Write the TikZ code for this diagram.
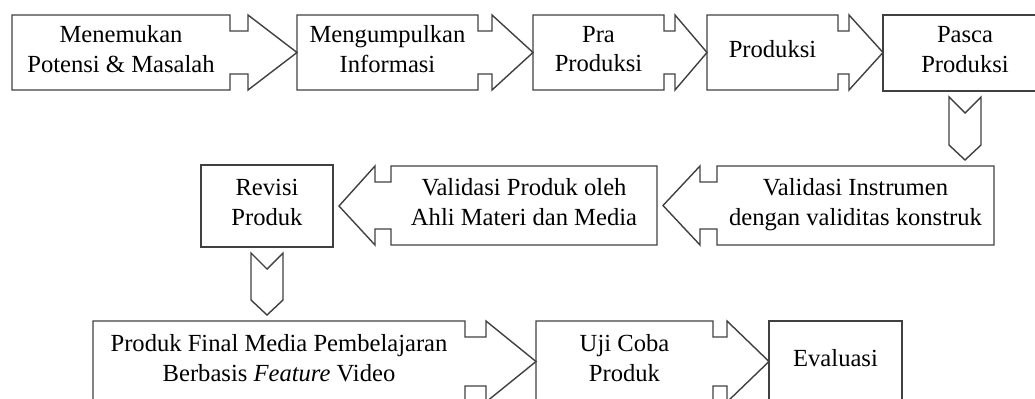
\documentclass[tikz,border=0pt]{standalone}
\usepackage{fontspec}
\setmainfont{Liberation Serif}
\usepackage{xcolor}
\usepackage{tikz}
\usetikzlibrary{calc}
\definecolor{edgegray}{RGB}{64,64,64}

\begin{document}
\begin{tikzpicture}[
		x=1cm,
		y=1cm,
		font=\fontsize{14}{17}\selectfont,
		stepbox/.style={
			inner sep=0pt,
			outer sep=0pt,
			align=center,
			text depth=4pt
		},
		plainbox/.style={
			stepbox,
			draw=edgegray,
			line width=0.8pt
		},
		outline/.style={draw=edgegray, line width=0.8pt, line join=miter}
	]
	
	% Canvas
	\useasboundingbox (0,0) rectangle (20.7,7.96);
	\clip (0,0) rectangle (20.7,7.96);
	
	% Top row
	\node[stepbox, minimum width=4.36cm, minimum height=1.5cm] (menemukan) at (2.42,6.91) {Menemukan\\Potensi \& Masalah};
	\node[stepbox, minimum width=3.62cm, minimum height=1.5cm] (mengumpulkan) at (7.75,6.91) {Mengumpulkan\\Informasi};
	\node[stepbox, minimum width=2.62cm, minimum height=1.5cm] (praproduksi) at (11.97,6.91) {Pra\\Produksi};
	\node[stepbox, minimum width=2.62cm, minimum height=1.5cm] (produksi) at (15.45,6.91) {Produksi};
	\node[plainbox, minimum width=3.28cm, minimum height=1.52cm] (pasca) at (19.30,6.90) {Pasca\\Produksi};
	
	% Middle row
	\node[plainbox, minimum width=2.64cm, minimum height=1.64cm] (revisi) at (5.34,3.84) {Revisi\\Produk};
	\node[stepbox, minimum width=5.32cm, minimum height=1.58cm] (valproduk) at (10.48,3.85) {Validasi Produk oleh\\Ahli Materi dan Media};
	\node[stepbox, minimum width=5.54cm, minimum height=1.58cm] (valinstrumen) at (17.11,3.85) {Validasi Instrumen\\dengan validitas konstruk};
	
	% Bottom row
	\node[stepbox, minimum width=7.44cm, minimum height=1.62cm] (final) at (5.58,0.73) {Produk Final Media Pembelajaran\\Berbasis \textit{Feature} Video};
	\node[stepbox, minimum width=3.54cm, minimum height=1.62cm] (ujicoba) at (12.49,0.73) {Uji Coba\\Produk};
	\node[plainbox, minimum width=2.66cm, minimum height=1.62cm] (evaluasi) at (16.71,0.73) {Evaluasi};
	
	% Boxes with arrow to the right
	\foreach \a/\b/\w in {menemukan/mengumpulkan/0.36,mengumpulkan/praproduksi/0.28,praproduksi/produksi/0.22,produksi/pasca/0.22,final/ujicoba/0.42,ujicoba/evaluasi/0.28}{
		\draw[outline] (\a.north west) -- (\a.north east) -- ++(0,-0.32) -- ++(\w,0) -- ++(0,0.32)
		-- (\b.west |- \a.east) -- ($(\a.south east)+(\w,0)$) -- ++(0,0.32) -- ++(-\w,0)
		-- (\a.south east) -- (\a.south west) -- cycle;
	}
	
	% Boxes with arrow to the left
	\foreach \a/\b/\w in {valproduk/revisi/0.32,valinstrumen/valproduk/0.34}{
		\draw[outline] (\a.north east) -- (\a.north west) -- ++(0,-0.32) -- ++(-\w,0) -- ++(0,0.32)
		-- ($(\b.east)+(0.12,0)$) -- ($(\a.south west)+(-\w,0)$) -- ++(0,0.32) -- ++(\w,0)
		-- (\a.south west) -- (\a.south east) -- cycle;
	}
	
	% Chevrons down
	\foreach \a/\b in {pasca/valinstrumen,revisi/final}{
		\coordinate (top) at ($(\a.south)+(0,-0.12)$);
		\coordinate (tip) at ($(top |- \b.north)+(0,0.12)$);
		\draw[outline] ($(top)+(-0.32,0)$) -- ($(top)+(0,-0.32)$) -- ($(top)+(0.32,0)$)
		-- ($(tip)+(0.32,0.3)$) -- (tip) -- ($(tip)+(-0.32,0.3)$) -- cycle;
	}
	
\end{tikzpicture}
\end{document}
